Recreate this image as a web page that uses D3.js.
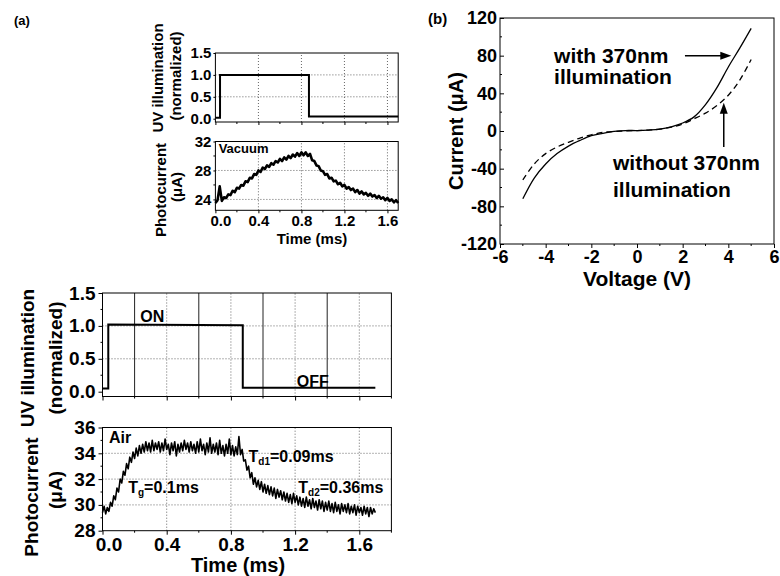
<!DOCTYPE html>
<html><head><meta charset="utf-8">
<script src="https://cdn.jsdelivr.net/npm/d3@7"></script>
<style>
body{margin:0;background:#fff}
svg{display:block}
text{font-family:"Liberation Sans",Arial,sans-serif;font-weight:bold;fill:#000}
</style></head><body>
<svg id="c" width="780" height="576"></svg>
<script>
// ---------------- data ----------------
const timeTicks = [0, 0.4, 0.8, 1.2, 1.6];
const uvTicks = [0, 0.5, 1.0, 1.5];
const vacTicks = [24, 28, 32];
const airTicks = [28, 30, 32, 34, 36];
const vTicks = [-6, -4, -2, 0, 2, 4, 6];
const iTicks = [-120, -80, -40, 0, 40, 80, 120];

const uvTopTime = [0, 0.043, 0.043, 0.87, 0.87, 1.70];
const uvTopValue = [0.02, 0.02, 1.0, 1.0, 0.05, 0.05];
const uvBotTime = [0, 0.036, 0.036, 0.874, 0.874, 1.70];
const uvBotValue = [0.05, 0.05, 1.02, 1.01, 0.06, 0.06];

const vacStep = 0.02;
const vacuumCurrent = [23.5,23.9,25.8,23.8,24.3,24.2,24.7,24.6,25.2,25.0,25.6,25.5,26.0,25.9,26.5,26.4,27.0,26.9,27.5,27.4,
28.0,27.8,28.4,28.2,28.7,28.5,29.0,28.8,29.3,29.1,29.6,29.3,29.8,29.5,30.0,29.7,30.2,29.9,30.4,30.0,
30.5,30.1,30.5,30.0,30.3,29.4,29.3,28.7,28.6,28.0,27.9,27.4,27.5,26.9,27.0,26.5,26.6,26.1,26.3,25.8,
26.0,25.5,25.7,25.3,25.5,25.0,25.3,24.8,25.1,24.7,24.9,24.5,24.8,24.4,24.6,24.2,24.5,24.1,24.3,23.9,
24.2,23.8,24.0,23.6,23.9,23.5];

const airStep = 0.01;
const airCurrent = [29.4,29.9,29.3,29.8,29.5,30.2,29.9,30.7,30.4,31.3,31.0,32.0,31.7,32.6,32.3,33.2,32.8,33.7,33.3,34.1,
33.6,34.4,33.8,34.6,34.0,34.7,34.1,34.9,34.2,34.8,34.1,35.0,34.2,34.8,34.3,34.9,34.1,34.8,34.2,35.1,
34.3,34.7,33.9,34.8,34.2,34.9,33.8,34.7,34.1,34.8,34.2,35.0,34.3,34.8,34.1,34.9,34.2,34.7,34.0,34.9,
34.1,35.1,34.2,34.7,33.9,34.8,34.1,35.2,34.0,34.7,34.1,34.8,33.9,35.0,34.0,34.6,33.8,34.7,34.0,35.1,
33.9,34.6,33.8,34.5,33.9,35.3,33.9,34.3,33.4,33.5,32.7,33.0,32.1,32.5,31.6,32.1,31.4,31.9,31.2,31.8,
31.0,31.6,30.9,31.5,30.8,31.4,30.7,31.3,30.5,31.2,30.6,31.1,30.4,31.0,30.3,30.9,30.2,30.8,30.1,30.9,
30.2,30.7,30.0,30.6,29.9,30.5,29.8,30.6,29.9,30.4,29.7,30.5,29.8,30.3,29.6,30.4,29.7,30.3,29.5,30.2,
29.6,30.3,29.5,30.1,29.4,30.2,29.5,30.0,29.3,30.1,29.5,30.0,29.4,30.1,29.3,29.9,29.4,30.0,29.2,29.9,
29.4,29.8,29.2,29.9,29.3,29.8,29.1,29.8,29.3,29.7,29.4];

const ivVoltage = [-5,-4.5,-4,-3.5,-3,-2.5,-2,-1.5,-1,-0.5,0,0.5,1,1.5,2,2.5,3,3.5,4,4.5,5];
const ivWith    = [-72,-50,-35,-24,-16,-10,-5,-2.5,-0.5,0.5,0.5,1,2,4.5,8.5,15,28,46,68,88,109];
const ivWithout = [-52,-35,-24,-17,-12,-7.5,-4,-1.5,-0.5,0,0.5,1,2,4,7.5,13,19,27,38,54,76];

// ---------------- drawing ----------------
const svg = d3.select("#c");
const fmt1 = d3.format(".1f");
const fmtInt = d => String(d);

function styleAxis(g, size){
  g.select(".domain").remove();
  g.selectAll("line").attr("stroke","#000");
  g.selectAll("text").style("font-size", size+"px").style("font-weight","bold")
   .style("font-family","'Liberation Sans',Arial,sans-serif");
}
function box(x0,x1,y0,y1){
  svg.append("rect").attr("x",x0).attr("y",y1).attr("width",x1-x0).attr("height",y0-y1)
    .attr("fill","none").attr("stroke","#000").attr("stroke-width",1);
}
function dotted(x, y, xs, ys){
  const g = svg.append("g").attr("stroke","#666").attr("stroke-width",1).attr("stroke-dasharray","1,2");
  xs.forEach(v=>g.append("line").attr("x1",x(v)).attr("x2",x(v)).attr("y1",y.range()[0]).attr("y2",y.range()[1]));
  ys.forEach(v=>g.append("line").attr("y1",y(v)).attr("y2",y(v)).attr("x1",x.range()[0]).attr("x2",x.range()[1]));
}
function rotLabel(txt, x, y, size){
  svg.append("text").attr("transform",`translate(${x},${y}) rotate(-90)`)
    .attr("text-anchor","middle").style("font-size",size+"px").text(txt);
}
function minorTicks(x, y, xs, ys, len){
  const g = svg.append("g").attr("stroke","#000");
  xs.forEach(v=>g.append("line").attr("x1",x(v)).attr("x2",x(v)).attr("y1",y.range()[0]).attr("y2",y.range()[0]+len));
  ys.forEach(v=>g.append("line").attr("y1",y(v)).attr("y2",y(v)).attr("x1",x.range()[0]).attr("x2",x.range()[0]-len));
}

// ===== panel (a) top: UV =====
const xT = d3.scaleLinear().domain([0,1.7]).range([215.4,398.2]);
const yUVt = d3.scaleLinear().domain([-0.075,1.5]).range([122,53]);
dotted(xT, yUVt, [0.4,0.8,1.2,1.6], [0.5,1.0]);
minorTicks(xT, yUVt, [0.2,0.6,1.0,1.4], [], 2);
svg.append("g").attr("transform",`translate(0,${yUVt.range()[0]})`)
  .call(d3.axisBottom(xT).tickValues(timeTicks).tickSize(3).tickFormat(""))
  .call(g=>styleAxis(g,15));
svg.append("g").attr("transform",`translate(${xT.range()[0]},0)`)
  .call(d3.axisLeft(yUVt).tickValues(uvTicks).tickSize(2).tickPadding(2).tickFormat(fmt1))
  .call(g=>styleAxis(g,15));
box(215.4,398.2,122,53);
svg.append("path").datum(uvTopTime.map((t,i)=>[t,uvTopValue[i]]))
  .attr("fill","none").attr("stroke","#000").attr("stroke-width",2)
  .attr("d", d3.line().x(d=>xT(d[0])).y(d=>yUVt(d[1])));
rotLabel("UV illumination", 163, 78, 15);
rotLabel("(normalized)", 181, 76, 15);

// ===== panel (a) top: Vacuum photocurrent =====
const yVac = d3.scaleLinear().domain([22.5,32]).range([210.3,141.5]);
dotted(xT, yVac, [0.4,0.8,1.2,1.6], [24,28]);
minorTicks(xT, yVac, [0.2,0.6,1.0,1.4], [26,30], 2);
svg.append("g").attr("transform",`translate(0,${yVac.range()[0]})`)
  .call(d3.axisBottom(xT).tickValues(timeTicks).tickSize(3).tickPadding(2).tickFormat(fmt1))
  .call(g=>styleAxis(g,15))
  .call(g=>g.selectAll(".tick").filter(d=>d===0).select("text").attr("dx",5));
svg.append("g").attr("transform",`translate(${xT.range()[0]},0)`)
  .call(d3.axisLeft(yVac).tickValues(vacTicks).tickSize(2).tickPadding(2).tickFormat(fmtInt))
  .call(g=>styleAxis(g,15));
box(215.4,398.2,210.3,141.5);
svg.append("path").datum(vacuumCurrent)
  .attr("fill","none").attr("stroke","#000").attr("stroke-width",2.6).attr("stroke-linejoin","round")
  .attr("d", d3.line().x((d,i)=>xT(i*vacStep)).y(d=>yVac(d)));
svg.append("text").attr("x",xT(0.03)).attr("y",yVac(30.4)).style("font-size","13px").text("Vacuum");
rotLabel("Photocurrent", 166, 190, 15);
rotLabel("(μA)", 182, 187, 15);
svg.append("text").attr("x",312).attr("y",244).attr("text-anchor","middle").style("font-size","15px").text("Time (ms)");

// ===== panel (a) bottom: UV =====
const xB = d3.scaleLinear().domain([0,1.8]).range([102.5,391.4]);
const yUVb = d3.scaleLinear().domain([-0.073,1.5]).range([396.5,293]);
dotted(xB, yUVb, [0.4,0.8,1.2,1.6], [0.5,1.0]);
{
  const g = svg.append("g").attr("stroke","#222").attr("stroke-width",1);
  [0.2,0.6,1.0,1.4].forEach(v=>g.append("line").attr("x1",xB(v)).attr("x2",xB(v))
    .attr("y1",yUVb.range()[0]).attr("y2",yUVb.range()[1]));
}
minorTicks(xB, yUVb, [0.2,0.6,1.0,1.4,1.8], [0.25,0.75,1.25], 2);
svg.append("g").attr("transform",`translate(0,${yUVb.range()[0]})`)
  .call(d3.axisBottom(xB).tickValues(timeTicks).tickSize(4).tickFormat(""))
  .call(g=>styleAxis(g,19));
svg.append("g").attr("transform",`translate(${xB.range()[0]},0)`)
  .call(d3.axisLeft(yUVb).tickValues(uvTicks).tickSize(4).tickPadding(3).tickFormat(fmt1))
  .call(g=>styleAxis(g,19));
box(102.5,391.4,396.5,293);
svg.append("path").datum(uvBotTime.map((t,i)=>[t,uvBotValue[i]]))
  .attr("fill","none").attr("stroke","#000").attr("stroke-width",2)
  .attr("d", d3.line().x(d=>xB(d[0])).y(d=>yUVb(d[1])));
svg.append("text").attr("x",xB(0.235)).attr("y",yUVb(1.06)).style("font-size","16px").text("ON");
svg.append("text").attr("x",xB(1.21)).attr("y",yUVb(0.07)).style("font-size","16px").text("OFF");
rotLabel("UV illumination", 34, 358, 19);
rotLabel("(normalized)", 62, 358, 19);

// ===== panel (a) bottom: Air photocurrent =====
const yAir = d3.scaleLinear().domain([28,36]).range([530.7,427.5]);
dotted(xB, yAir, [0.4,0.8,1.2,1.6], [30,32,34]);
minorTicks(xB, yAir, [0.2,0.6,1.0,1.4,1.8], [29,31,33,35], 2);
svg.append("g").attr("transform",`translate(0,${yAir.range()[0]})`)
  .call(d3.axisBottom(xB).tickValues(timeTicks).tickSize(4).tickPadding(3).tickFormat(fmt1))
  .call(g=>styleAxis(g,19))
  .call(g=>g.selectAll(".tick").filter(d=>d===0).select("text").attr("dx",6));
svg.append("g").attr("transform",`translate(${xB.range()[0]},0)`)
  .call(d3.axisLeft(yAir).tickValues(airTicks).tickSize(4).tickPadding(3).tickFormat(fmtInt))
  .call(g=>styleAxis(g,19));
box(102.5,391.4,530.7,427.5);
svg.append("path").datum(airCurrent)
  .attr("fill","none").attr("stroke","#000").attr("stroke-width",1.6).attr("stroke-linejoin","round")
  .attr("d", d3.line().x((d,i)=>xB(i*airStep)).y(d=>yAir(d)));
svg.append("text").attr("x",xB(0.04)).attr("y",yAir(34.8)).style("font-size","16px").text("Air");
function subText(x, y, main, sub, rest){
  const t = svg.append("text").attr("x",x).attr("y",y).style("font-size","16px");
  t.append("tspan").text(main);
  t.append("tspan").attr("dy",3).style("font-size","10px").text(sub);
  t.append("tspan").attr("dy",-3).text(rest);
}
subText(xB(0.16), yAir(30.9), "T", "g", "=0.1ms");
subText(xB(0.91), yAir(33.3), "T", "d1", "=0.09ms");
subText(xB(1.22), yAir(30.9), "T", "d2", "=0.36ms");
rotLabel("Photocurrent", 38, 497, 19);
rotLabel("(μA)", 62, 490, 19);
svg.append("text").attr("x",238).attr("y",572).attr("text-anchor","middle").style("font-size","20px").text("Time (ms)");

svg.append("text").attr("x",14).attr("y",25).style("font-size","13px").text("(a)");

// ===== panel (b) =====
const xV = d3.scaleLinear().domain([-6,6]).range([500,774]);
const yI = d3.scaleLinear().domain([-120,120]).range([244,18]);
minorTicks(xV, yI, [-5,-3,-1,1,3,5], [], 2);
{
  const g = svg.append("g").attr("stroke","#000");
  [-100,-60,-20,20,60,100].forEach(v=>g.append("line").attr("x1",500).attr("x2",502).attr("y1",yI(v)).attr("y2",yI(v)));
}
svg.append("g").attr("transform",`translate(0,244)`)
  .call(d3.axisBottom(xV).tickValues(vTicks).tickSize(4).tickPadding(2).tickFormat(fmtInt))
  .call(g=>styleAxis(g,18));
svg.append("g").attr("transform",`translate(500,0)`)
  .call(d3.axisLeft(yI).tickValues(iTicks).tickSize(-4).tickPadding(3).tickFormat(fmtInt))
  .call(g=>styleAxis(g,18));
box(500,774,244,18);
const ivLine = d3.line().curve(d3.curveCatmullRom).x((d,i)=>xV(ivVoltage[i])).y(d=>yI(d));
svg.append("path").datum(ivWith).attr("fill","none").attr("stroke","#000").attr("stroke-width",1.3).attr("d",ivLine);
svg.append("path").datum(ivWithout).attr("fill","none").attr("stroke","#000").attr("stroke-width",1.3)
  .attr("stroke-dasharray","6,4").attr("d",ivLine);
svg.append("text").attr("x",xV(-3.63)).attr("y",yI(72)).style("font-size","21px").text("with 370nm");
svg.append("text").attr("x",xV(-3.63)).attr("y",yI(50)).style("font-size","21px").text("illumination");
svg.append("text").attr("x",xV(-1.05)).attr("y",yI(-41)).style("font-size","21px").text("without 370nm");
svg.append("text").attr("x",xV(-1.05)).attr("y",yI(-70)).style("font-size","21px").text("illumination");
{
  // arrows
  const hx = xV(4.13), hy = yI(80);
  svg.append("line").attr("x1",xV(2.1)).attr("x2",hx-9).attr("y1",hy).attr("y2",hy).attr("stroke","#000").attr("stroke-width",1.5);
  svg.append("path").attr("d",`M${hx},${hy}L${hx-11},${hy-4}L${hx-11},${hy+4}Z`).attr("fill","#000");
  const vx = xV(3.8), vy = yI(30);
  svg.append("line").attr("x1",vx).attr("x2",vx).attr("y1",yI(-17)).attr("y2",vy+9).attr("stroke","#000").attr("stroke-width",1.5);
  svg.append("path").attr("d",`M${vx},${vy}L${vx-4},${vy+11}L${vx+4},${vy+11}Z`).attr("fill","#000");
}
rotLabel("Current (μA)", 463, 131, 20);
svg.append("text").attr("x",637).attr("y",286).attr("text-anchor","middle").style("font-size","21px").text("Voltage (V)");
svg.append("text").attr("x",428).attr("y",24).style("font-size","15px").text("(b)");
</script>
</body></html>
